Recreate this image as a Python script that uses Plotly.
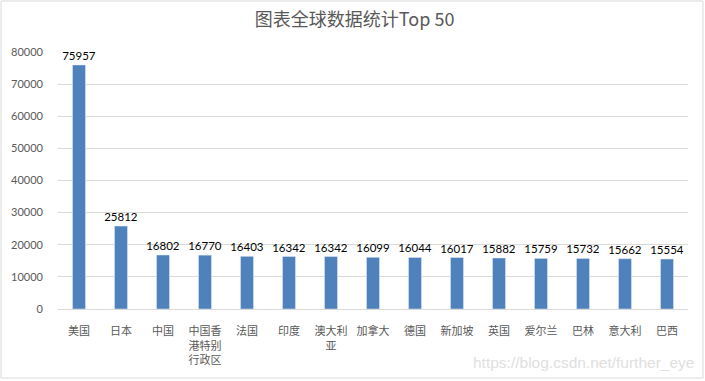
import plotly.graph_objects as go

categories = ["美国", "日本", "中国", "中国香<br>港特别<br>行政区", "法国", "印度", "澳大利<br>亚",
              "加拿大", "德国", "新加坡", "英国", "爱尔兰", "巴林", "意大利", "巴西"]
values = [75957, 25812, 16802, 16770, 16403, 16342, 16342, 16099, 16044, 16017,
          15882, 15759, 15732, 15662, 15554]
y_ticks = [0, 10000, 20000, 30000, 40000, 50000, 60000, 70000, 80000]

cjk = "Noto Sans CJK SC"

fig = go.Figure(go.Bar(
    x=categories, y=values,
    marker_color="#4f81bd",
    width=0.31,
    text=[str(v) for v in values],
    textposition="outside",
    constraintext="none",
    textfont=dict(family="Lato", size=11.5, color="#000000"),
    cliponaxis=False,
))

fig.update_layout(
    width=705, height=381,
    margin=dict(l=58, r=17, t=52, b=72, autoexpand=False),
    paper_bgcolor="white", plot_bgcolor="white",
    title=dict(text="图表全球数据统计Top 50", x=0.503, xanchor="center", y=0.947, yanchor="middle",
               font=dict(family=cjk, size=18, color="#595959")),
    showlegend=False,
    bargap=0.69,
)
fig.update_xaxes(
    tickfont=dict(family=cjk, size=11, color="#595959"),
    showline=True, linecolor="#d9d9d9", linewidth=1,
    showgrid=False, ticks="", tickangle=0, automargin=False, ticklabelstandoff=12,
)
fig.update_yaxes(
    range=[0, 80000], tickvals=y_ticks, ticktext=[str(t) for t in y_ticks],
    tickfont=dict(family="Lato", size=11, color="#595959"),
    showgrid=True, gridcolor="#d9d9d9", gridwidth=1,
    zeroline=False, showline=False, ticks="", ticklabelstandoff=14, automargin=False,
)
fig.add_shape(type="rect", xref="paper", yref="paper",
              x0=-57/630, x1=(630 + 15)/630, y0=-69/257, y1=(257 + 51)/257,
              line=dict(color="#d9d9d9", width=1), fillcolor="rgba(0,0,0,0)")
fig.add_annotation(text="https://blog.csdn.net/further_eye", xref="paper", yref="paper",
                   x=(696 - 58)/630, y=-53/257, xanchor="right", yanchor="middle", showarrow=False,
                   font=dict(family="Liberation Sans", size=15.5, color="#e0e0e0"))

fig.write_html("out.html", config={"displayModeBar": False},
               post_script="document.body.style.margin='0';")
